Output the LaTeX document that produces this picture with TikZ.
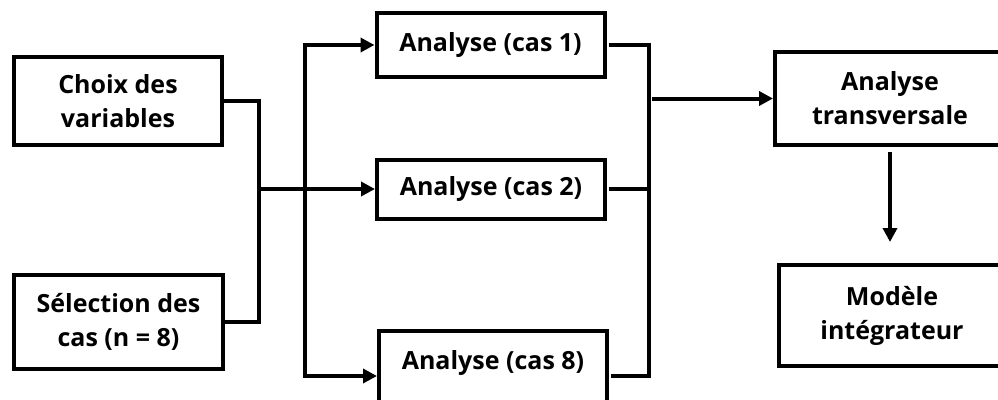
\documentclass[tikz,border=0pt]{standalone}
\usepackage{fontspec}
\setmainfont{Open Sans}
\usetikzlibrary{arrows.meta}
\tikzset{
  box/.style={draw, line width=4pt, rectangle, align=center, inner sep=0pt,
    font=\fontsize{25}{34}\selectfont\bfseries},
  conn/.style={line width=4pt, line cap=rect},
  arr/.style={conn, -{Triangle[length=14pt,width=14pt]}}
}
\begin{document}
\begin{tikzpicture}[x=1pt,y=-1pt]
\useasboundingbox (0,0) rectangle (998,399);
\clip (0,0) rectangle (998,399);
% boxes
\node[box, minimum width=208, minimum height=88] (c1) at (118,101) {Choix des\\variables};
\node[box, minimum width=209, minimum height=94] (c2) at (118.5,322) {Sélection des\\cas (n = 8)};
\node[box, minimum width=228, minimum height=64] (a1) at (490.5,45) {Analyse (cas 1)};
\node[box, minimum width=228, minimum height=59] (a2) at (491,189) {Analyse (cas 2)};
\node[box, minimum width=228, minimum height=90, text height=18pt, text depth=31pt] (a8) at (493,376) {Analyse (cas 8)};
\node[box, minimum width=230, minimum height=93] (t) at (890,98.5) {Analyse\\transversale};
\node[box, minimum width=226, minimum height=101] (m) at (892,315.5) {Modèle\\intégrateur};
% junction coordinates
\coordinate (j1) at (259,0);
\coordinate (j2) at (305,0);
\coordinate (j3) at (649,0);
\coordinate (tdown) at (890,242);
% left merge
\draw[conn] ([xshift=2pt]c1.east) -- (c1.east -| j1) -- (c2.east -| j1) -- ([xshift=2pt]c2.east);
\draw[arr] (j1 |- a2.west) -- (a2.west);
% fan out
\draw[conn] (j2 |- a1.west) -- (j2 |- a8.west);
\draw[arr] (j2 |- a1.west) -- (a1.west);
\draw[arr] (j2 |- a8.west) -- (a8.west);
% right merge
\draw[conn] ([xshift=4pt]a1.east) -- (a1.east -| j3) -- (a8.east -| j3) -- ([xshift=4pt]a8.east);
\draw[conn] ([xshift=4pt]a2.east) -- ([xshift=-4pt]a2.east -| j3);
\draw[arr] ([xshift=5pt]j3 |- t.west) -- (t.west);
% down
\draw[arr] ([yshift=-7pt]t.south -| tdown) -- (tdown);
\end{tikzpicture}
\end{document}
